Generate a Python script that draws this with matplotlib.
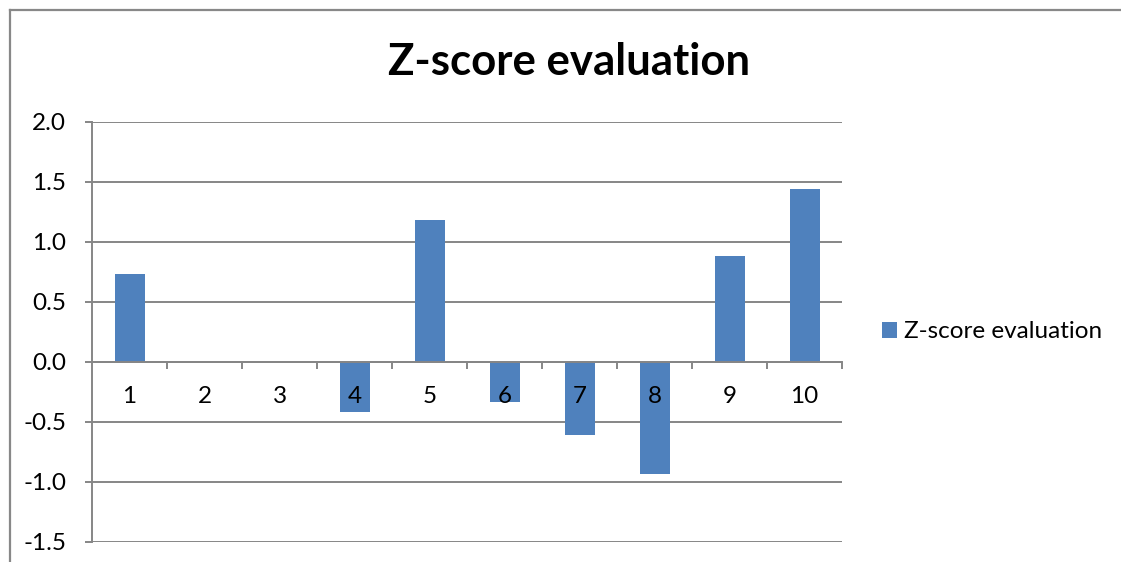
import matplotlib
matplotlib.use("Agg")
import matplotlib.pyplot as plt
from matplotlib.lines import Line2D

categories = ["1", "2", "3", "4", "5", "6", "7", "8", "9", "10"]
values = [0.73, 0.0, 0.0, -0.42, 1.18, -0.33, -0.61, -0.935, 0.88, 1.44]
y_ticks = [-1.5, -1.0, -0.5, 0.0, 0.5, 1.0, 1.5, 2.0]
y_labels = ["-1.5", "-1.0", "-0.5", "0.0", "0.5", "1.0", "1.5", "2.0"]
series_name = "Z-score evaluation"
title = "Z-score evaluation"

plt.rcParams['font.family'] = ['Lato', 'DejaVu Sans']

W, H = 1121, 562
fig = plt.figure(figsize=(W / 100, H / 100), dpi=100)
ax = fig.add_axes([92 / W, 1 - 542 / H, 750 / W, 420 / H])

grid_c = "#868686"
x = list(range(len(categories)))
bars = ax.bar(x, values, width=0.4, color="#4F81BD", label=series_name, zorder=2)

ax.set_xlim(-0.5, len(categories) - 0.5)
ax.set_ylim(-1.5, 2.0)
ax.set_yticks(y_ticks)
ax.set_yticklabels(y_labels)
for yv in y_ticks:
    ax.axhline(yv, color=grid_c, lw=1.4, zorder=1)

ax.set_xticks(x)
ax.set_xticklabels(categories)
ax.set_xticks([i - 0.5 for i in range(1, len(categories) + 1)], minor=True)
ax.tick_params(axis='x', which='major', length=0, pad=17.5, labelsize=17.5)
ax.tick_params(axis='x', which='minor', length=5, width=1.4, color=grid_c, direction='out')
ax.tick_params(axis='y', length=5, width=1.4, color=grid_c, labelsize=17.5, pad=13.5)
ax.xaxis.set_zorder(4)

for s in ['top', 'right']:
    ax.spines[s].set_visible(False)
ax.spines['bottom'].set_position(('data', 0))
ax.spines['bottom'].set_color(grid_c)
ax.spines['bottom'].set_linewidth(1.4)
ax.spines['bottom'].set_zorder(3)
ax.spines['left'].set_color(grid_c)
ax.spines['left'].set_linewidth(1.4)

fig.text(569 / W, 1 - 62 / H, title, ha='center', va='center', fontsize=31.5, fontweight='bold')

leg = fig.legend(handles=[bars], loc='center left', bbox_to_anchor=(882 / W, 1 - 332 / H),
                 frameon=False, fontsize=17.5, handlelength=0.6, handleheight=0.6,
                 handletextpad=0.3, borderpad=0, borderaxespad=0)

fig.add_artist(Line2D([9.5 / W, 9.5 / W], [0, 1 - 10 / H], color="#888888", lw=1.6, transform=fig.transFigure))
fig.add_artist(Line2D([9.5 / W, 1.0], [1 - 10 / H, 1 - 10 / H], color="#888888", lw=1.6, transform=fig.transFigure))

fig.savefig("out.png", dpi=100)
